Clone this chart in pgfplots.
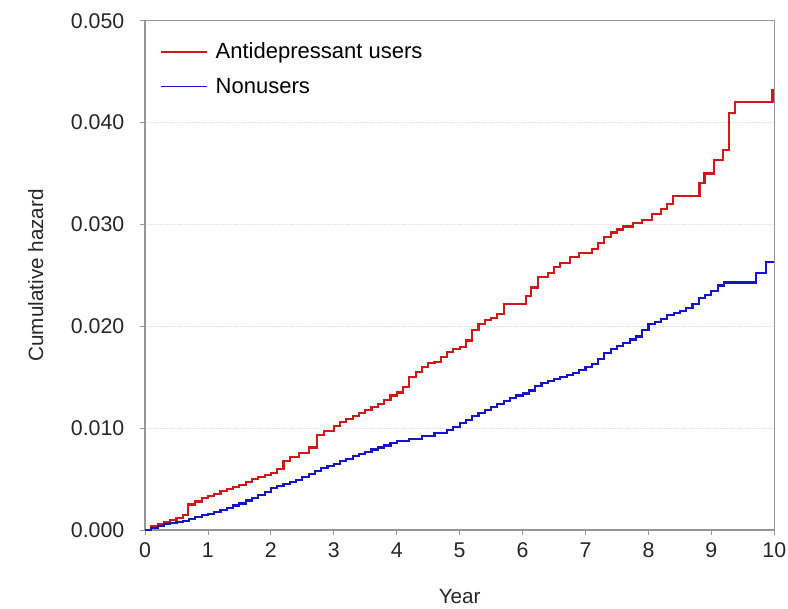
\documentclass[border=0pt]{standalone}
\usepackage{pgfplots}
\pgfplotsset{compat=1.18}
\usepackage{fontspec}
\setmainfont{Liberation Sans}
\definecolor{cred}{RGB}{208,24,24}
\definecolor{cblue}{RGB}{20,20,200}
\definecolor{axgray}{RGB}{150,150,150}
\begin{document}
\begin{tikzpicture}
\begin{axis}[
  scale only axis,
  width=472pt, height=382pt,
  xmin=0, xmax=10, ymin=0, ymax=0.05,
  xtick={0,1,...,10},
  ytick={0,0.01,0.02,0.03,0.04,0.05},
  tick pos=left,
  yticklabel style={xshift=-8pt, /pgf/number format/fixed, /pgf/number format/fixed zerofill, /pgf/number format/precision=3},
  scaled y ticks=false,
  /pgf/number format/assume math mode=true,
  ticklabel style={font=\fontsize{16}{19}\selectfont, text=black!85},
  label style={font=\fontsize{15.5}{18}\selectfont, text=black!85},
  xlabel={Year}, ylabel={Cumulative hazard},
  xlabel style={at={(axis description cs:0.5,-0.131)}, anchor=center},
  ylabel style={at={(axis description cs:-0.1737,0.5)}, anchor=center},
  axis line style={axgray, line width=0.8pt},
  tick style={axgray, line width=0.6pt},
  major tick length=4pt,
  tick align=outside,
  xticklabel style={yshift=-2pt, inner xsep=0.5pt},
  ymajorgrids,
  major grid style={black!12, densely dotted, line width=0.5pt},
  legend style={draw=none, fill=none, at={(axis description cs:0.024,0.96)}, anchor=north west,
    font=\fontsize{16.5}{19}\selectfont, row sep=11pt, inner sep=0pt, nodes={inner sep=1pt}},
  legend cell align=left,
  legend image code/.code={\draw[#1, line width=1.4pt] (0pt,0pt) -- (34pt,0pt); \path (39pt,0pt);},
]
\addplot[const plot, cred, line width=1.6pt] coordinates {
(0,0) (0.1,0.0004) (0.2,0.0006) (0.3,0.0008) (0.4,0.0010) (0.5,0.0012) (0.6,0.0015)
(0.69,0.0025) (0.8,0.0028) (0.9,0.0031) (1.0,0.0033) (1.1,0.0035) (1.2,0.0038)
(1.3,0.0040) (1.4,0.0042) (1.5,0.0044) (1.6,0.0047) (1.7,0.0050) (1.8,0.0052)
(1.9,0.0054) (2.0,0.0056) (2.1,0.0060) (2.2,0.0068) (2.3,0.0072) (2.45,0.0076)
(2.6,0.0081) (2.73,0.0093) (2.85,0.0097) (3.0,0.0102) (3.1,0.0106) (3.2,0.0109)
(3.3,0.0112) (3.4,0.0115) (3.5,0.0118) (3.6,0.0121) (3.7,0.0124) (3.8,0.0128)
(3.9,0.0132) (4.0,0.0135) (4.1,0.0140) (4.2,0.0150) (4.3,0.0155) (4.4,0.0160)
(4.5,0.0164) (4.6,0.0165) (4.7,0.0170) (4.8,0.0175) (4.9,0.0178) (5.0,0.0180)
(5.1,0.0186) (5.2,0.0196) (5.3,0.0202) (5.4,0.0206) (5.5,0.0208) (5.6,0.0212)
(5.7,0.0222) (6.05,0.0230) (6.13,0.0238) (6.25,0.0248) (6.4,0.0252) (6.5,0.0258)
(6.6,0.0262) (6.75,0.0268) (6.9,0.0272) (7.1,0.0276) (7.2,0.0282) (7.3,0.0288)
(7.4,0.0292) (7.5,0.0295) (7.6,0.0298) (7.75,0.0301) (7.9,0.0304) (8.05,0.0310)
(8.2,0.0315) (8.3,0.0320) (8.39,0.0328) (8.81,0.0341) (8.89,0.0350) (9.04,0.0363)
(9.19,0.0373) (9.28,0.0409) (9.37,0.0420) (9.97,0.0432) (10,0.0432)
};
\addlegendentry{Antidepressant users}
\addplot[const plot, cblue, line width=1.6pt] coordinates {
(0,0) (0.1,0.0002) (0.2,0.0004) (0.3,0.0006) (0.4,0.0007) (0.5,0.0008) (0.6,0.0009)
(0.7,0.0011) (0.8,0.0013) (0.9,0.0015) (1.0,0.0016) (1.1,0.0018) (1.2,0.0020)
(1.3,0.0022) (1.4,0.0024) (1.5,0.0026) (1.6,0.0029) (1.7,0.0031) (1.8,0.0034)
(1.9,0.0037) (2.0,0.0041) (2.1,0.0043) (2.2,0.0045) (2.3,0.0047) (2.4,0.0049)
(2.5,0.0052) (2.6,0.0055) (2.7,0.0058) (2.8,0.0061) (2.9,0.0063) (3.0,0.0065)
(3.1,0.0068) (3.2,0.0070) (3.3,0.0073) (3.4,0.0075) (3.5,0.0077) (3.6,0.0079)
(3.7,0.0081) (3.8,0.0083) (3.9,0.0085) (4.0,0.0087) (4.2,0.0089) (4.4,0.0092)
(4.6,0.0095) (4.8,0.0098) (4.9,0.0101) (5.0,0.0105) (5.1,0.0108) (5.2,0.0112)
(5.3,0.0115) (5.4,0.0118) (5.5,0.0121) (5.6,0.0124) (5.7,0.0127) (5.8,0.0130)
(5.9,0.0132) (6.0,0.0134) (6.1,0.0137) (6.2,0.0141) (6.3,0.0144) (6.4,0.0146)
(6.5,0.0148) (6.6,0.0150) (6.7,0.0152) (6.8,0.0154) (6.9,0.0157) (7.0,0.0160)
(7.1,0.0163) (7.2,0.0168) (7.3,0.0174) (7.4,0.0178) (7.5,0.0181) (7.6,0.0184)
(7.7,0.0187) (7.8,0.0190) (7.9,0.0196) (8.0,0.0202) (8.1,0.0204) (8.2,0.0207)
(8.3,0.0211) (8.4,0.0213) (8.5,0.0215) (8.6,0.0218) (8.7,0.0222) (8.8,0.0228)
(8.9,0.0231) (9.0,0.0235) (9.1,0.0240) (9.2,0.0243) (9.71,0.0252) (9.87,0.0263)
(10,0.0263)
};
\addlegendentry{Nonusers}
\end{axis}
\path (-108.75pt,-58.5pt) rectangle (482.25pt,397.5pt);
\end{tikzpicture}
\end{document}
